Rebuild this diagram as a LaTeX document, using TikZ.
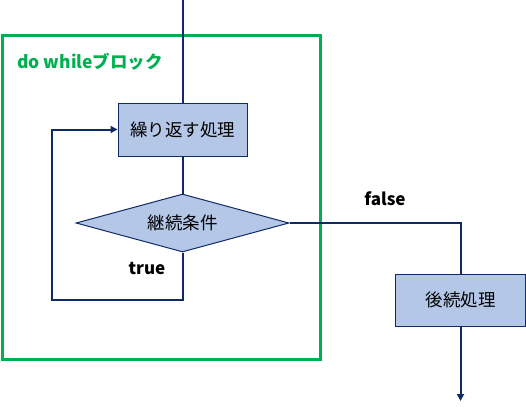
\documentclass[tikz,border=0pt]{standalone}
\usepackage{fontspec}
\setmainfont{Noto Sans CJK JP}
\usetikzlibrary{shapes.geometric,arrows.meta}
\definecolor{navy}{HTML}{0F2A66}
\definecolor{boxfill}{HTML}{B4C7E7}
\definecolor{blockgreen}{HTML}{00B050}
\begin{document}
\begin{tikzpicture}[x=1pt,y=-1pt,
  flow/.style={draw=navy, line width=2pt},
  flowarrow/.style={flow, -{Triangle[length=7pt,width=7pt]}},
  procbox/.style={draw=navy, line width=1pt, fill=boxfill, inner sep=0pt, font=\fontsize{17.5}{19}\selectfont},
  decision/.style={diamond, draw=navy, line width=1pt, fill=boxfill, inner sep=0pt, shape aspect=3.6, font=\fontsize{17.5}{19}\selectfont},
  condlabel/.style={font=\fontsize{17}{19}\selectfont\bfseries, text=black},
]
\useasboundingbox (0,0) rectangle (526,410);
\node[draw=blockgreen, line width=3pt, minimum width=318pt, minimum height=324pt, inner sep=0pt] (blk) at (161,197) {};
\node[anchor=west, text=blockgreen, font=\fontsize{17.5}{19}\selectfont\bfseries, inner sep=0pt] (lbl) at (17,62) {do whileブロック};
\coordinate (top) at (182.5,0);
\node[procbox, minimum width=129pt, minimum height=53pt] (p1) at (182.5,129.5) {繰り返す処理};
\node[decision, minimum width=213pt, minimum height=58pt] (d) at (182.5,223) {継続条件};
\node[procbox, minimum width=130pt, minimum height=52pt] (p2) at (460.5,300) {後続処理};
\coordinate (loop) at (52,300);
\coordinate (end) at (460.5,401);
\draw[flow] (top) -- (p1.north);
\draw[flow] (p1.south) -- (d.north);
\draw[flowarrow] (d.south) |- (loop) |- (p1.west);
\draw[flow] (d.east) -| (p2.north);
\draw[flowarrow] (p2.south) -- (end);
\node[condlabel] (t) at (147,268) {true};
\node[condlabel] (f) at (385,199) {false};
\end{tikzpicture}
\end{document}
